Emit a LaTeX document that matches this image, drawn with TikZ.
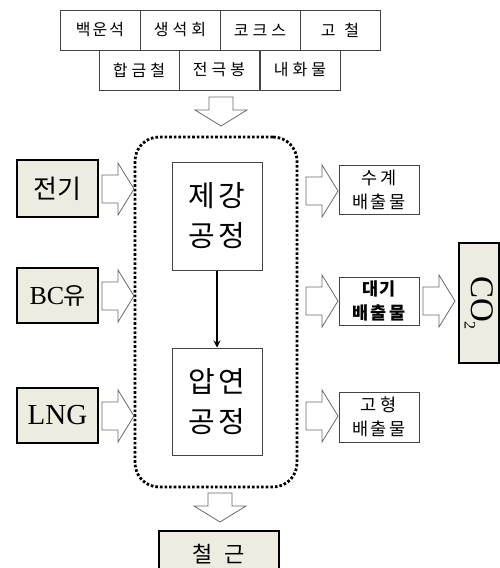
\documentclass[tikz,border=0pt]{standalone}
\usepackage{fontspec}
\usetikzlibrary{arrows.meta}
\newfontfamily\kr{Noto Sans CJK KR}
\newfontfamily\lserif{Liberation Serif}
\newcommand\gp{\hspace{4pt}}
\definecolor{beige}{HTML}{EEEBE0}
\definecolor{edge}{HTML}{444444}
\tikzset{
  cell/.style={draw=edge, line width=0.9pt, minimum width=80pt, minimum height=40pt, inner sep=0pt, font=\kr\fontsize{16}{18}\selectfont},
  inbox/.style={draw=black, line width=2pt, fill=beige, minimum width=81pt, minimum height=55pt, inner sep=0pt},
  procbox/.style={draw=edge, line width=1pt, minimum width=90pt, minimum height=107pt, inner sep=0pt, align=center, font=\kr\fontsize{29}{40}\selectfont},
  outbox/.style={draw=edge, line width=1pt, minimum width=80pt, minimum height=49pt, inner sep=0pt, align=center, font=\kr\fontsize{17.5}{24}\selectfont},
  blockarrow/.style={draw=edge!80, line width=0.8pt, fill=white, line join=miter},
  rarr/.pic={\path[blockarrow] (0,-14) -- (16,-14) -- (16,-26) -- (32,0) -- (16,26) -- (16,14) -- (0,14) -- cycle;},
  darr/.pic={\path[blockarrow] (-12,0) -- (12,0) -- (12,13) -- (26,13) -- (0,29) -- (-26,13) -- (-12,13) -- cycle;}
}
\begin{document}
\begin{tikzpicture}[x=1pt,y=-1pt]
\useasboundingbox[fill=white] (0,0) rectangle (500,568);
% top material cells
\node[cell] (m1) at (100,30) {백\hspace{2pt}운\hspace{2pt}석};
\node[cell] (m2) at (180,30) {생\gp 석\gp 회};
\node[cell] (m3) at (260,30) {코\gp 크\gp 스};
\node[cell] (m4) at (340,30) {고\hspace{9pt}철};
\node[cell] (m5) at (139,70) {합\gp 금\gp 철};
\node[cell] (m6) at (219,70) {전\gp 극\gp 봉};
\node[cell] (m7) at (300,70) {내\gp 화\gp 물};
\pic at (221,97) {darr};
% dotted boundary
\node[draw=black, line width=2.8pt, dash pattern=on 2.6pt off 2pt, rounded corners=24pt, minimum width=162pt, minimum height=350pt, inner sep=0pt] (plant) at (216,312) {};
% process boxes
\node[procbox, minimum height=108pt] (jegang) at (217,216) {제\hspace{4pt}강\\공\hspace{4pt}정};
\node[procbox] (apyeon) at (217,401.5) {압\hspace{4pt}연\\공\hspace{4pt}정};
\draw[line width=1.2pt, -{Stealth[length=7pt,width=7pt]}] (jegang) -- (apyeon);
% inputs
\node[inbox, minimum height=57pt, font=\kr\fontsize{26}{28}\selectfont] (elec) at (57.5,188.5) {전기};
\node[inbox, font=\fontsize{26}{28}\selectfont] (bc) at (57.5,295.5) {\lserif BC\kern-1pt\kr\fontsize{24}{26}\selectfont 유};
\node[inbox, font=\lserif\fontsize{29}{31}\selectfont] (lng) at (57.5,415.5) {LNG};
\pic at (102,189) {rarr};
\pic at (102,296) {rarr};
\pic at (102,416) {rarr};
% outputs
\node[outbox] (water) at (379,189.5) {수\hspace{3pt}계\\배\hspace{2pt}출\hspace{2pt}물};
\node[outbox, minimum height=48pt, font=\kr\bfseries\fontsize{17.5}{24}\selectfont] (air) at (379,301) {대\hspace{1pt}기\\배\hspace{2pt}출\hspace{2pt}물};
\node[outbox, minimum height=50pt] (solid) at (379,417) {고\hspace{4pt}형\\배\hspace{2pt}출\hspace{2pt}물};
\pic at (306,191) {rarr};
\pic at (306,301) {rarr};
\pic at (306,416) {rarr};
\pic at (423,301) {rarr};
\node[inbox, rotate=-90, minimum width=120pt, minimum height=40pt] (co2) at (479,303) {};
\node[rotate=-90, font=\lserif\fontsize{33}{35}\selectfont] at (co2.center) {CO\raisebox{-7pt}{\fontsize{16}{18}\selectfont 2}};
% product
\pic at (220,493) {darr};
\node[inbox, minimum width=120pt, minimum height=46pt, anchor=north, font=\kr\fontsize{22}{24}\selectfont] (rebar) at (219,530) {철\hspace{12pt}근};
\end{tikzpicture}
\end{document}
